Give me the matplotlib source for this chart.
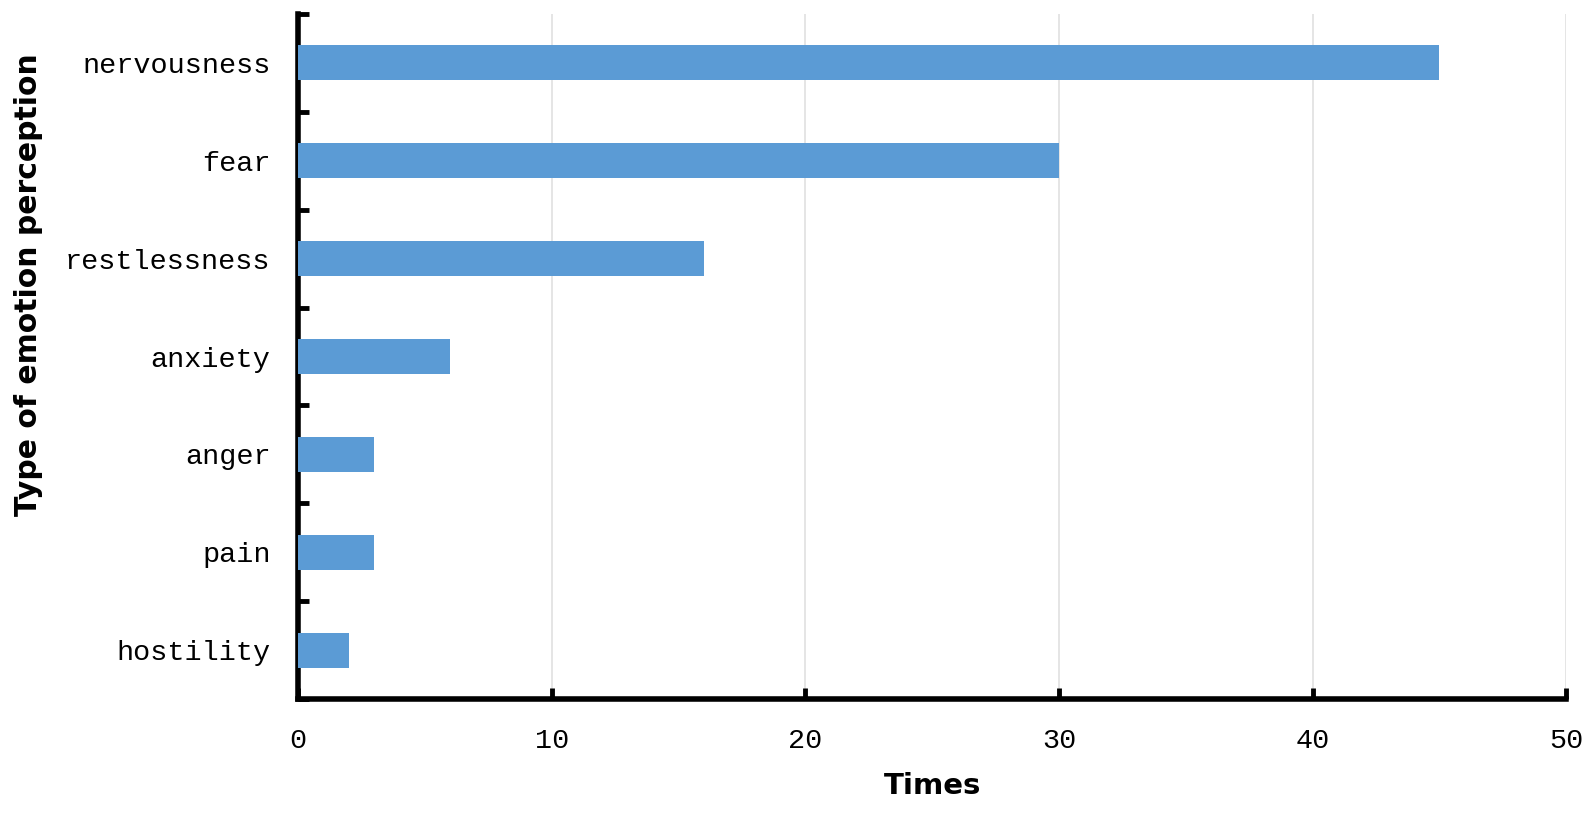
import numpy as np
import matplotlib.pyplot as plt

emotions = ['nervousness', 'fear', 'restlessness', 'anxiety', 'anger', 'pain', 'hostility']
times = [45, 30, 16, 6, 3, 3, 2]
xticks = [0, 10, 20, 30, 40, 50]

fig = plt.figure(figsize=(15.95, 8.13), dpi=100)
ax = fig.add_axes([0.187, 0.140, 0.795, 0.843])

y = np.arange(len(emotions))
ax.barh(y, times, height=0.36, color='#5B9BD5', zorder=3)

ax.set_ylim(len(emotions) - 0.5, -0.5)
ax.set_xlim(0, 50)

ax.set_yticks(y)
ax.set_yticklabels(emotions, fontfamily='Liberation Mono', fontsize=20.5)
ax.set_yticks(np.arange(len(emotions) + 1) - 0.5, minor=True)
ax.tick_params(axis='y', which='major', length=0, pad=20)
ax.tick_params(axis='y', which='minor', direction='in', length=8, width=3.5, color='black')

ax.set_xticks(xticks)
ax.set_xticklabels([str(t) for t in xticks], fontfamily='Liberation Mono', fontsize=20.5)
ax.tick_params(axis='x', direction='in', length=8, width=3.5, pad=21)

ax.grid(axis='x', color='#e0e0e0', linewidth=1.2, zorder=0)

for s in ['top', 'right']:
    ax.spines[s].set_visible(False)
for s in ['left', 'bottom']:
    ax.spines[s].set_linewidth(4)

ax.set_xlabel('Times', fontsize=21, fontweight='bold', labelpad=13)
ax.set_ylabel('Type of emotion perception', fontsize=21.5, fontweight='bold')
ax.yaxis.set_label_coords(-0.201, 0.605)

fig.savefig('out.png', dpi=100)
